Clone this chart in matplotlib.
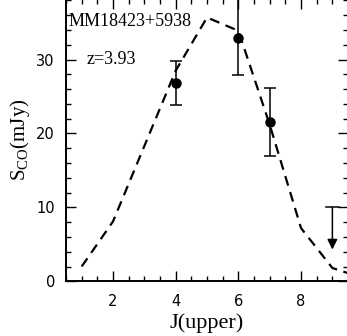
import matplotlib
matplotlib.use('Agg')
import matplotlib.pyplot as plt
from matplotlib.ticker import MultipleLocator

plt.rcParams['font.family'] = ['Liberation Serif', 'DejaVu Serif']
plt.rcParams['mathtext.fontset'] = 'custom'
plt.rcParams['mathtext.rm'] = 'Liberation Serif'

# CO ladder model (dashed curve)
model_j = [1, 2, 3, 4, 5, 6, 7, 8, 9, 10]
model_s = [2.0, 8.1, 18.3, 28.5, 35.7, 33.9, 21.2, 7.2, 1.8, 0.4]

# Detections
det_j = [4, 6, 7]
det_s = [26.9, 32.9, 21.5]
det_lo = [3.1, 5.0, 4.5]
det_hi = [2.9, 5.3, 4.6]

# Upper limit
lim_j = [9]
lim_s = [10.0]

fig = plt.figure(figsize=(3.47, 3.36), dpi=100)
ax = fig.add_axes([66 / 347, 1 - 281.3 / 336, 1.003 - 66 / 347, 281.3 / 336 + 0.003])

ax.plot(model_j, model_s, color='black', lw=1.6, dashes=(4.5, 3))
ax.errorbar(det_j, det_s, yerr=[det_lo, det_hi], fmt='o', color='black',
            ms=6.5, elinewidth=1.1, capsize=4, capthick=1.1)

for j, s in zip(lim_j, lim_s):
    ax.plot([j - 0.21, j + 0.21], [s, s], color='black', lw=1.1)
    ax.annotate('', xy=(j, 4.3), xytext=(j, s),
                arrowprops=dict(arrowstyle='-|>,head_length=0.6,head_width=0.3',
                                color='black', lw=1.1, shrinkA=0, shrinkB=0))

ax.set_xlim(0.5, 9.5)
ax.set_ylim(0, 38.2)
ax.xaxis.set_major_locator(MultipleLocator(2))
ax.xaxis.set_minor_locator(MultipleLocator(0.5))
ax.yaxis.set_major_locator(MultipleLocator(10))
ax.yaxis.set_minor_locator(MultipleLocator(2))
ax.tick_params(which='both', direction='in', top=True, right=True, width=1.0)
ax.tick_params(which='major', length=7)
ax.tick_params(which='minor', length=3.5)
ax.tick_params(axis='x', pad=9)
ax.tick_params(axis='y', pad=8)
for lab in ax.get_xticklabels() + ax.get_yticklabels():
    lab.set_family('DejaVu Sans')
    lab.set_fontsize(10.5)
for sp in ax.spines.values():
    sp.set_linewidth(1.4)

ax.set_xlabel('J(upper)', fontsize=16, labelpad=3)
ax.set_ylabel(r'S$_{\rm CO}$(mJy)', fontsize=15, labelpad=3)

ax.text(0.008, 0.92, 'MM18423+5938', transform=ax.transAxes, fontsize=13,
        ha='left', va='center')
ax.text(0.072, 0.785, 'z=3.93', transform=ax.transAxes, fontsize=13,
        ha='left', va='center')

fig.savefig('out.png', dpi=100)
